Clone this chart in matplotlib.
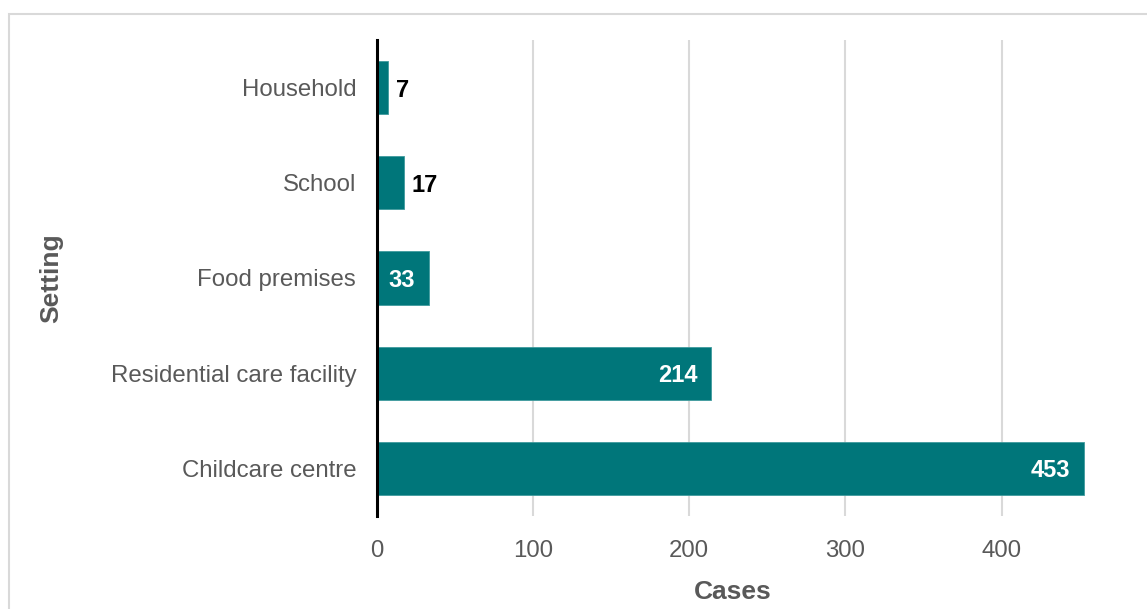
import matplotlib.pyplot as plt
from matplotlib.patches import Rectangle

# data
settings = ["Household", "School", "Food premises", "Residential care facility", "Childcare centre"]
cases = [7, 17, 33, 214, 453]
xticks = [0, 100, 200, 300, 400]

teal = "#00767a"
grey = "#595959"

plt.rcParams['font.family'] = ['Liberation Sans', 'DejaVu Sans']

fig = plt.figure(figsize=(11.47, 6.09), dpi=100)
W, H = 1147, 609
ax = fig.add_axes([377 / W, 1 - 516 / H, (1089 - 377) / W, (516 - 40) / H])

ypos = list(range(len(settings)))
ax.barh(ypos, cases, height=0.56, color=teal, edgecolor="#3f9a9d", linewidth=0.6, zorder=3)
ax.set_ylim(len(settings) - 0.5, -0.5)
ax.set_xlim(0, 456)
ax.set_yticks(ypos)
ax.set_yticklabels(settings)
ax.set_xticks(xticks)

# bar value labels
for y, v in zip(ypos, cases):
    if v < 25:
        ax.annotate(str(v), (v, y), xytext=(6, 0), textcoords="offset points",
                    ha="left", va="center_baseline", fontsize=17, fontweight="bold", color="black")
    else:
        ax.annotate(str(v), (v, y), xytext=(-10, 0), textcoords="offset points",
                    ha="right", va="center_baseline", fontsize=17, fontweight="bold", color="white", zorder=4)

ax.grid(axis="x", color="#d9d9d9", linewidth=1.5, zorder=0)
ax.grid(axis="y", visible=False)
for g, t in zip(ax.get_xgridlines(), xticks):
    if t == 0:
        g.set_visible(False)

for s in ["top", "right", "bottom"]:
    ax.spines[s].set_visible(False)
ax.spines["left"].set_linewidth(2.2)
ax.spines["left"].set_color("black")
ax.spines["left"].set_zorder(5)

ax.tick_params(axis="both", length=0, labelsize=17.3, labelcolor=grey)
ax.tick_params(axis="y", pad=15)
ax.tick_params(axis="x", pad=17)

ax.set_xlabel("Cases", fontsize=19, fontweight="bold", color=grey, labelpad=13)
ax.set_ylabel("Setting", fontsize=19, fontweight="bold", color=grey, labelpad=34)

# light frame around the figure
fig.patches.append(Rectangle((9 / W, -0.1), 1.2, 1 - 14 / H + 0.1, transform=fig.transFigure,
                             fill=False, edgecolor="#d9d9d9", linewidth=1.5))

fig.savefig("out.png", dpi=100)
